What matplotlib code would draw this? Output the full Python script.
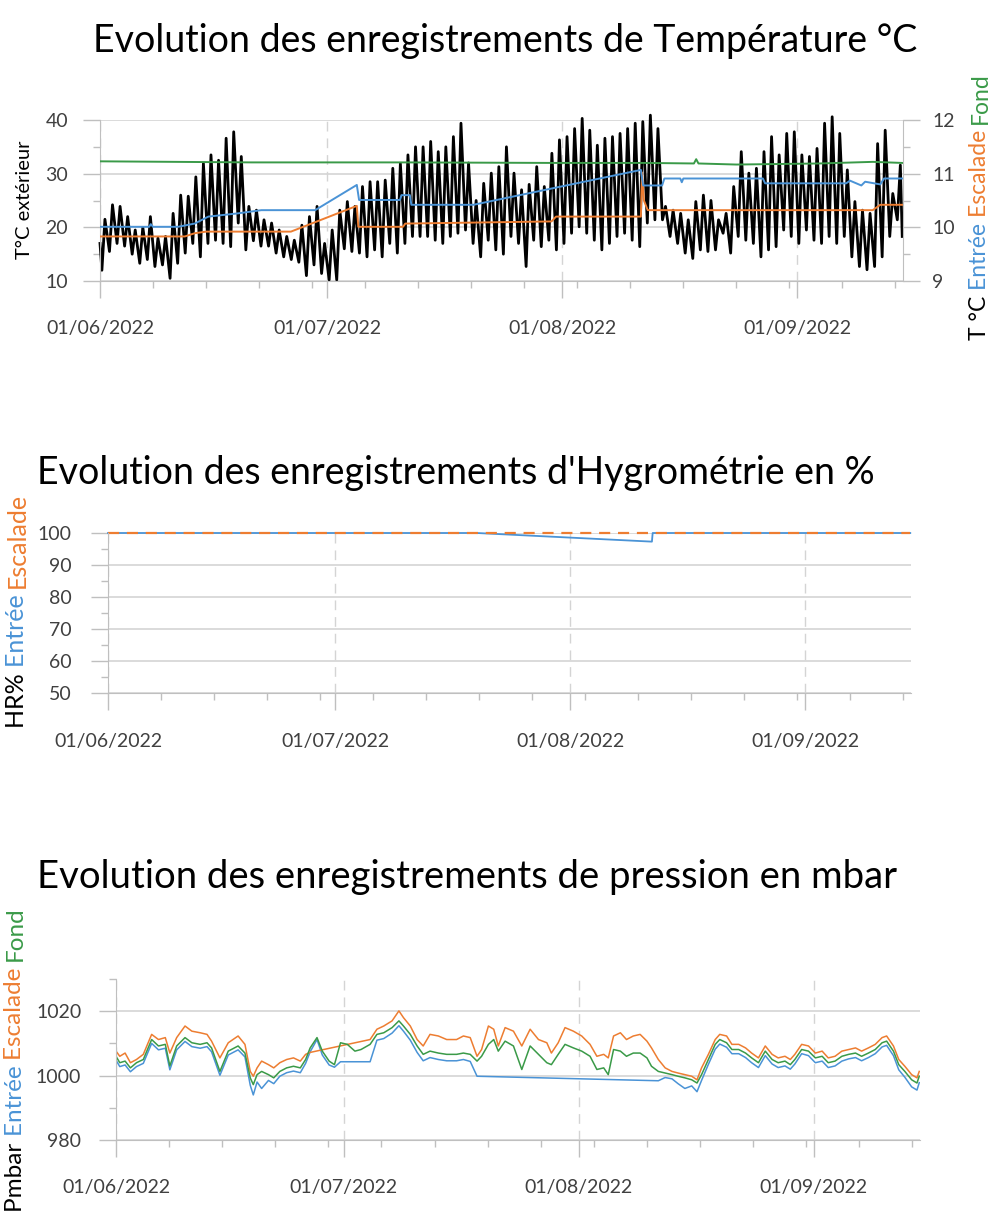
import numpy as np
import pandas as pd
import matplotlib
matplotlib.use('Agg')
import matplotlib.pyplot as plt
import matplotlib.dates as mdates
from matplotlib.ticker import FixedLocator, MultipleLocator

plt.rcParams['font.family'] = ['Lato', 'DejaVu Sans']

# ---------------- data ----------------
start = pd.Timestamp('2022-06-01')

# outdoor temperature: daily min / max (from 01/06 to 14/09)
t_min = [12.0, 15.5, 17.0, 16.5, 15.0, 13.3, 14.0, 12.7, 13.0, 10.5,
         13.3, 15.2, 17.0, 14.5, 17.0, 17.6, 17.0, 16.4, 20.8, 15.8,
         17.5, 16.5, 16.5, 15.2, 14.5, 14.0, 13.5, 11.0, 13.0, 11.4,
         10.2, 10.2, 16.0, 15.5, 15.2, 14.5, 15.8, 14.5, 17.0, 15.2,
         17.0, 18.3, 18.3, 18.3, 17.6, 17.0, 18.3, 18.9, 19.5, 17.0,
         14.5, 17.6, 15.8, 15.0, 18.3, 17.0, 12.7, 17.6, 16.4, 17.6,
         15.8, 17.0, 18.9, 20.1, 18.9, 17.6, 15.8, 17.0, 18.3, 18.9,
         17.6, 16.4, 20.8, 21.4, 21.4, 18.3, 17.0, 15.2, 14.2, 15.8,
         15.5, 15.8, 18.9, 15.2, 18.3, 17.6, 17.0, 14.5, 15.8, 16.4,
         19.5, 18.3, 17.0, 19.5, 17.6, 17.0, 18.3, 17.0, 18.3, 14.5,
         12.7, 12.1, 12.7, 14.5, 18.3, 21.4]
t_max = [21.5, 24.2, 23.9, 22.0, 19.5, 20.0, 22.0, 18.0, 18.3, 22.6,
         26.0, 25.8, 29.4, 31.9, 33.5, 32.5, 36.6, 37.8, 33.2, 23.9,
         23.2, 21.4, 20.8, 19.5, 18.3, 17.6, 20.4, 22.0, 23.9, 17.0,
         19.5, 23.2, 24.8, 23.9, 27.6, 28.5, 28.5, 28.8, 31.0, 31.9,
         33.5, 35.0, 35.0, 36.0, 34.1, 35.0, 36.9, 39.4, 32.0, 25.0,
         28.2, 30.1, 31.3, 35.0, 30.1, 27.0, 28.0, 31.3, 27.6, 33.8,
         36.3, 36.9, 38.4, 40.3, 38.1, 35.3, 36.6, 36.9, 37.5, 38.4,
         39.4, 39.7, 40.9, 38.4, 23.9, 23.2, 22.6, 21.4, 24.8, 26.0,
         25.0, 21.4, 22.6, 27.6, 34.1, 30.1, 31.0, 34.1, 36.9, 33.5,
         37.5, 37.8, 33.5, 33.2, 34.7, 39.4, 40.6, 37.5, 30.7, 24.8,
         23.2, 22.6, 35.6, 38.1, 26.3, 31.6]
t_first, t_last = 17.0, 18.3

# cave temperatures (right axis), day offset from 01/06
entree_days = [0, 6.5, 6.7, 7.0, 10.3, 12.5, 14.3, 18.2, 21.3, 28.4, 33.9, 34.2,
               39.6, 39.8, 40.9, 41.1, 49.3, 71.4, 71.7, 74.2, 74.5, 76.6, 76.8,
               77.0, 87.5, 87.8, 98.5, 99.0, 100.5, 101.0, 103.0, 103.5, 105.9]
entree_temp = [10.01, 10.01, 10.06, 10.01, 10.01, 10.07, 10.20, 10.26, 10.32, 10.32,
               10.79, 10.51, 10.51, 10.60, 10.60, 10.42, 10.42, 11.07, 10.78, 10.78,
               10.91, 10.91, 10.84, 10.91, 10.91, 10.82, 10.82, 10.87, 10.78, 10.85,
               10.80, 10.91, 10.91]
escalade_days = [0, 11.2, 12.5, 14.0, 25.2, 33.9, 34.1, 40.0, 40.3, 59.6, 60.2,
                 71.4, 71.55, 71.8, 72.3, 102.0, 103.0, 105.9]
escalade_temp = [9.83, 9.83, 9.89, 9.92, 9.92, 10.40, 10.01, 10.01, 10.07, 10.11,
                 10.20, 10.20, 11.02, 10.50, 10.32, 10.32, 10.42, 10.42]
fond_days = [0, 20, 40, 60, 72, 78.4, 78.7, 79.0, 84, 95, 102, 105.9]
fond_temp = [11.23, 11.21, 11.21, 11.20, 11.20, 11.19, 11.27, 11.19, 11.17, 11.19,
             11.22, 11.20]

# hygrometry
hr_entree_days = [0, 48.7, 71.8, 71.9, 105.9]
hr_entree = [100, 100, 97.3, 100, 100]
hr_escalade_days = [0, 105.9]
hr_escalade = [100, 100]

# pressure
nan = np.nan
p_days = [0.0, 0.5, 1.2, 1.9, 2.7, 3.6, 4.7, 5.6, 6.5, 7.1,
          8.0, 9.1, 10.0, 11.1, 12.0, 12.6, 13.7, 14.8, 16.1, 17.0,
          17.7, 18.1, 18.6, 19.2, 20.1, 20.8, 21.6, 22.5, 23.4, 24.3,
          25.0, 25.6, 26.5, 27.2, 28.1, 28.8, 29.6, 30.5, 31.5, 32.3,
          33.5, 34.4, 35.3, 36.4, 37.3, 37.9, 38.8, 39.7, 40.5, 41.4,
          42.5, 43.6, 44.9, 45.8, 46.7, 47.6, 48.2, 49.1, 49.8, 50.4,
          51.3, 52.4, 53.5, 54.6, 55.7, 56.8, 57.4, 58.3, 59.2, 60.3,
          61.4, 62.5, 63.4, 64.3, 64.9, 65.6, 66.5, 67.3, 68.2, 69.1,
          70.0, 70.6, 71.5, 72.4, 73.3, 74.1, 75.0, 75.9, 76.6, 77.2,
          78.1, 79.0, 79.6, 80.5, 81.2, 82.1, 83.0, 83.8, 84.7, 85.6,
          86.5, 87.3, 88.2, 88.9, 89.5, 90.4, 91.3, 92.2, 93.1, 93.9,
          94.8, 95.7, 96.6, 97.5, 98.3, 99.2, 100.1, 101.0, 101.6, 102.5,
          103.2, 104.0, 104.9, 105.6, 105.9]
p_entree = [1004.8, 1002.8, 1003.3, 1001.2, 1002.8, 1003.8, 1010.0, 1008.0, 1008.5, 1001.8,
            1008.0, 1010.6, 1009.0, 1008.5, 1009.0, 1007.4, 1000.1, 1006.4, 1008.0, 1005.8,
            997.0, 994.0, 998.0, 996.0, 998.5, 997.5, 999.8, 1000.9, 1001.4, 1000.9,
            1003.8, 1007.4, 1011.2, 1006.4, 1003.3, 1002.6, 1004.3, 1004.3, 1004.3, 1004.3,
            1004.3, 1011.0, 1011.5, 1013.2, 1015.5, 1013.8, 1011.0, 1007.2, 1004.6, 1005.6,
            1005.0, 1004.6, 1004.6, 1005.0, 1004.4, 999.8, nan, nan, nan, nan,
            nan, nan, nan, nan, nan, nan, nan, nan, nan, nan,
            nan, nan, nan, nan, nan, nan, nan, nan, nan, nan,
            nan, nan, 998.4, 999.4, 999.0, 997.5, 996.0, 996.8, 995.0, 998.5,
            1003.5, 1008.2, 1009.8, 1008.8, 1006.8, 1006.8, 1005.6, 1004.0, 1002.5, 1006.2,
            1003.6, 1002.5, 1003.0, 1002.0, 1003.6, 1006.8, 1006.2, 1004.0, 1004.5, 1002.5,
            1003.0, 1004.5, 1005.2, 1005.6, 1004.6, 1005.6, 1006.8, 1008.9, 1009.4, 1006.2,
            1001.8, 999.5, 996.5, 995.5, 997.8]
p_escalade = [1007.6, 1006.0, 1007.0, 1004.0, 1005.0, 1006.6, 1012.8, 1011.2, 1011.8, 1007.0,
              1011.8, 1015.4, 1013.8, 1013.3, 1012.8, 1010.7, 1005.5, 1010.2, 1012.3, 1009.7,
              1001.3, 999.8, 1002.4, 1004.5, 1003.4, 1002.4, 1004.0, 1005.0, 1005.5, 1004.5,
              1006.6, 1007.2, nan, nan, nan, nan, nan, nan, nan, nan,
              1011.2, 1014.4, 1015.4, 1017.0, 1020.1, 1018.0, 1015.4, 1011.2, 1009.2, 1012.8,
              1012.3, 1011.2, 1011.2, 1012.3, 1011.8, 1006.0, 1008.1, 1015.4, 1014.4, 1009.2,
              1014.9, 1013.8, 1009.2, 1014.4, 1011.2, 1010.2, 1007.0, 1010.2, 1014.9, 1013.8,
              1012.3, 1009.7, 1006.0, 1006.6, 1005.5, 1012.3, 1013.3, 1011.2, 1012.3, 1012.8,
              1010.7, 1008.6, 1005.0, 1002.4, 1001.3, 1000.8, 1000.3, 999.8, 998.7, 1002.4,
              1006.6, 1011.2, 1012.8, 1012.3, 1009.7, 1009.7, 1008.6, 1007.0, 1005.5, 1009.2,
              1006.6, 1005.5, 1006.0, 1005.0, 1006.6, 1009.7, 1009.2, 1007.0, 1007.6, 1005.5,
              1006.0, 1007.6, 1008.1, 1008.6, 1007.6, 1008.6, 1009.7, 1011.8, 1012.3, 1009.2,
              1005.0, 1002.9, 1000.3, 999.3, 1001.3]
p_fond = [1006.0, 1004.0, 1004.5, 1002.4, 1004.0, 1005.0, 1011.2, 1009.2, 1009.7, 1003.0,
          1009.2, 1011.8, 1010.2, 1009.7, 1010.2, 1008.6, 1001.3, 1007.6, 1009.2, 1007.0,
          999.3, 997.2, 1000.3, 1001.3, 1000.3, 999.3, 1001.3, 1002.4, 1002.9, 1002.4,
          1005.0, 1008.6, 1011.8, 1007.6, 1004.5, 1003.4, 1010.2, 1009.7, 1007.6, 1008.1,
          1009.7, 1012.8, 1013.3, 1014.9, 1017.0, 1015.4, 1012.8, 1009.2, 1006.6, 1007.6,
          1007.0, 1006.6, 1006.6, 1007.0, 1006.6, 1004.5, 1006.0, 1009.7, 1011.2, 1007.6,
          1010.7, 1009.2, 1001.9, 1009.2, 1006.6, 1004.0, 1003.4, 1006.6, 1009.7, 1008.6,
          1007.6, 1006.0, 1001.9, 1002.4, 1000.3, 1008.1, 1007.6, 1006.0, 1007.0, 1007.0,
          1005.5, 1002.9, 1001.3, 1000.8, 1000.3, 999.8, 999.3, 998.7, 997.7, 1000.3,
          1005.0, 1009.7, 1011.2, 1010.2, 1008.1, 1008.1, 1007.0, 1005.5, 1004.0, 1007.6,
          1005.0, 1004.0, 1004.5, 1003.4, 1005.0, 1008.1, 1007.6, 1005.5, 1006.0, 1004.0,
          1004.5, 1006.0, 1006.6, 1007.0, 1006.0, 1007.0, 1008.1, 1010.2, 1010.7, 1007.6,
          1003.4, 1001.3, 998.7, 997.7, 999.8]

# ---------------- style ----------------
W, H = 993, 1212
BLUE = '#4A93D6'
ORANGE = '#ED7D31'
GREEN = '#3A9A48'
GRAY = '#BFBFBF'
GRID = '#D4D4D4'
TXT = '#404040'
END = start + pd.Timedelta(days=106)
weeks = mdates.date2num(pd.date_range(start, END, freq='7D'))


def dates(days):
    return start + pd.to_timedelta(np.asarray(days, float), unit='D')


def axes_px(l, t, r, b):
    return fig.add_axes([l / W, 1 - b / H, (r - l) / W, (b - t) / H])


def style(ax, xpad, ypad):
    ax.spines['top'].set_visible(False)
    ax.spines['right'].set_visible(False)
    ax.spines['left'].set_color(GRAY)
    ax.spines['bottom'].set_color(GRAY)
    ax.set_xlim(start, END)
    ax.xaxis.set_major_locator(mdates.MonthLocator())
    ax.xaxis.set_major_formatter(mdates.DateFormatter('%d/%m/%Y'))
    ax.xaxis.set_minor_locator(FixedLocator(weeks))
    ax.tick_params(axis='x', which='major', length=12, width=1, color=GRAY,
                   pad=xpad, labelsize=14, labelcolor=TXT)
    ax.tick_params(axis='x', which='minor', length=5, width=1, color=GRAY)
    ax.tick_params(axis='y', which='major', length=12, width=1, color=GRAY,
                   pad=ypad, labelsize=14, labelcolor=TXT)
    ax.tick_params(axis='y', which='minor', length=5, width=1, color=GRAY)
    ax.grid(axis='y', which='major', color=GRID, lw=1.2)
    ax.grid(axis='x', which='major', color=GRID, lw=1.0, ls=(0, (7, 5)))
    ax.set_axisbelow(True)


def vlabel(x, y_bottom, parts, size):
    r = fig.canvas.get_renderer()
    y = H - y_bottom
    for s, c in parts:
        t = fig.text(x / W, y / H, s, rotation=90, color=c, fontsize=size,
                     ha='center', va='bottom')
        y += t.get_window_extent(r).height


fig = plt.figure(figsize=(W / 100, H / 100), dpi=100)

# ---------------- temperature ----------------
ax1 = axes_px(100, 120, 903, 281)
style(ax1, 16, 11)
ax1.set_ylim(10, 40)
ax1.yaxis.set_major_locator(MultipleLocator(10))
ax1.yaxis.set_minor_locator(MultipleLocator(5))
bx = [0.0]
by = [t_first]
for d in range(len(t_min)):
    bx += [d + 0.25, d + 0.65]
    by += [t_min[d], t_max[d]]
bx.append(105.9)
by.append(t_last)
ax1.plot(dates(bx), by, color='black', lw=2.0, clip_on=False)

ax1r = ax1.twinx()
ax1r.set_ylim(9, 12)
ax1r.yaxis.set_major_locator(MultipleLocator(1))
ax1r.yaxis.set_minor_locator(MultipleLocator(0.5))
for s in ['top', 'left', 'bottom']:
    ax1r.spines[s].set_visible(False)
ax1r.spines['right'].set_color(GRAY)
ax1r.tick_params(axis='y', which='major', length=12, width=1, color=GRAY,
                 pad=9, labelsize=14, labelcolor=TXT)
ax1r.tick_params(axis='y', which='minor', length=5, width=1, color=GRAY)
ax1r.plot(dates(fond_days), fond_temp, color=GREEN, lw=1.4)
ax1r.plot(dates(escalade_days), escalade_temp, color=ORANGE, lw=1.4)
ax1r.plot(dates(entree_days), entree_temp, color=BLUE, lw=1.4)

fig.text(505 / W, 1 - 52 / H, 'Evolution des enregistrements de Température °C',
         fontsize=27, ha='center', va='baseline', color='black')

# ---------------- hygrometry ----------------
ax2 = axes_px(108, 533, 911, 693)
style(ax2, 17, 14)
ax2.set_ylim(50, 100)
ax2.yaxis.set_major_locator(MultipleLocator(10))
ax2.yaxis.set_minor_locator(MultipleLocator(5))
ax2.plot(dates(hr_entree_days), hr_entree, color=BLUE, lw=1.3, clip_on=False)
ax2.plot(dates(hr_escalade_days), hr_escalade, color=ORANGE, lw=1.6,
         dashes=(5, 3.5), clip_on=False)
fig.text(37 / W, 1 - 484 / H, "Evolution des enregistrements d'Hygrométrie en %",
         fontsize=27, ha='left', va='baseline', color='black')

# ---------------- pressure ----------------
ax3 = axes_px(116, 979, 920, 1140)
style(ax3, 16, 13)
ax3.set_ylim(980, 1030)
ax3.yaxis.set_major_locator(FixedLocator([980, 1000, 1020]))
ax3.yaxis.set_minor_locator(FixedLocator([990, 1010, 1030]))
pdat = pd.DataFrame({'entree': p_entree, 'escalade': p_escalade, 'fond': p_fond},
                    index=dates(p_days))
ax3.plot(pdat['entree'].dropna(), color=BLUE, lw=1.1)
ax3.plot(pdat['escalade'].dropna(), color=ORANGE, lw=1.1)
ax3.plot(pdat['fond'].dropna(), color=GREEN, lw=1.1)
fig.text(37 / W, 1 - 888 / H, 'Evolution des enregistrements de pression en mbar',
         fontsize=27.5, ha='left', va='baseline', color='black')

# ---------------- axis titles ----------------
fig.text(25 / W, 1 - 200 / H, 'T°C extérieur', rotation=90, fontsize=14.5,
         ha='center', va='center', color='black')
vlabel(980, 340, [('T °C ', 'black'), ('Entrée ', BLUE), ('Escalade ', ORANGE),
                  ('Fond', GREEN)], 16.5)
vlabel(17, 728, [('HR% ', 'black'), ('Entrée ', BLUE), ('Escalade', ORANGE)], 18)
vlabel(15, 1212, [('Pmbar ', 'black'), ('Entrée ', BLUE), ('Escalade ', ORANGE),
                  ('Fond', GREEN)], 17.5)

fig.savefig('out.png', dpi=100)
